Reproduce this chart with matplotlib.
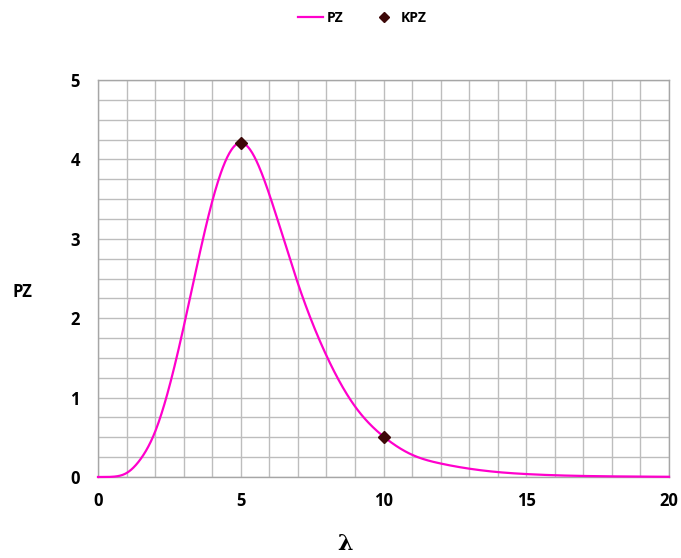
import numpy as np
import matplotlib
matplotlib.use("Agg")
import matplotlib.pyplot as plt
from matplotlib.lines import Line2D

# Data
lam = [0, 0.5, 1, 1.5, 2, 3, 4, 5, 6, 7, 8, 9, 10, 11, 12, 13, 14, 15, 16, 17, 18, 19, 20]
pz = [0.0, 0.003, 0.05, 0.23, 0.57, 1.89, 3.47, 4.21, 3.56, 2.44, 1.53, 0.89, 0.51,
      0.28, 0.17, 0.105, 0.062, 0.037, 0.022, 0.013, 0.008, 0.005, 0.003]
kpz_x = [5, 10]
kpz_y = [4.21, 0.51]

x_ticks = [0, 5, 10, 15, 20]
y_ticks = [0, 1, 2, 3, 4, 5]


def natural_spline(xs, ys, n=40):
    x = np.asarray(xs, float)
    y = np.asarray(ys, float)
    N = len(x)
    h = np.diff(x)
    A = np.zeros((N, N))
    b = np.zeros(N)
    A[0, 0] = 1
    A[-1, -1] = 1
    for i in range(1, N - 1):
        A[i, i - 1] = h[i - 1]
        A[i, i] = 2 * (h[i - 1] + h[i])
        A[i, i + 1] = h[i]
        b[i] = 3 * ((y[i + 1] - y[i]) / h[i] - (y[i] - y[i - 1]) / h[i - 1])
    c = np.linalg.solve(A, b)
    xo, yo = [], []
    for i in range(N - 1):
        bi = (y[i + 1] - y[i]) / h[i] - h[i] * (2 * c[i] + c[i + 1]) / 3
        di = (c[i + 1] - c[i]) / (3 * h[i])
        t = np.linspace(0, h[i], n, endpoint=False)
        xo.append(x[i] + t)
        yo.append(y[i] + bi * t + c[i] * t ** 2 + di * t ** 3)
    xo.append([x[-1]])
    yo.append([y[-1]])
    return np.concatenate(xo), np.concatenate(yo)


plt.rcParams['font.family'] = ['Open Sans', 'DejaVu Sans']

fig = plt.figure(figsize=(6.81, 5.58), dpi=100)
ax = fig.add_axes([98 / 681, 1 - 477 / 558, (669 - 98) / 681, (477 - 80) / 558])

sx, sy = natural_spline(lam, pz)
sy = np.clip(sy, 0, None)
ax.plot(sx, sy, color='#FF00CC', lw=1.6, zorder=3, clip_on=False)
ax.plot(kpz_x, kpz_y, linestyle='none', marker='D', ms=6, color='#3d0808', zorder=4)

ax.set_xlim(0, 20)
ax.set_ylim(0, 5)
ax.set_xticks(x_ticks)
ax.set_yticks(y_ticks)
ax.set_xticks(np.arange(0, 21, 1), minor=True)
ax.set_yticks(np.arange(0, 5.01, 0.25), minor=True)
ax.grid(True, which='both', color='#bdbdbd', lw=1.0, zorder=0)
ax.set_axisbelow(True)
for s in ax.spines.values():
    s.set_color('#a6a6a6')
    s.set_linewidth(1.0)
ax.tick_params(which='both', length=0)
ax.tick_params(axis='x', pad=11)
ax.tick_params(axis='y', pad=13)
for lab in ax.get_xticklabels() + ax.get_yticklabels():
    lab.set_fontweight('bold')
    lab.set_fontsize(12)

fig.text(22 / 681, 1 - 292 / 558, 'PZ', fontsize=12, fontweight='bold', ha='center', va='center')
fig.text(345 / 681, 1 - 544 / 558, 'λ', fontsize=16, fontweight='bold', ha='center', va='center',
         family='DejaVu Serif')

handles = [Line2D([0], [0], color='#FF00CC', lw=1.6),
           Line2D([0], [0], linestyle='none', marker='D', ms=5, color='#3d0808')]
fig.legend(handles, ['PZ', 'KPZ'], loc='center', bbox_to_anchor=(362 / 681, 1 - 18 / 558), ncol=2,
           frameon=False, prop={'weight': 'bold', 'size': 10}, handlelength=1.8, columnspacing=2.0,
           handletextpad=0.3)

fig.savefig('out.png', dpi=100)
